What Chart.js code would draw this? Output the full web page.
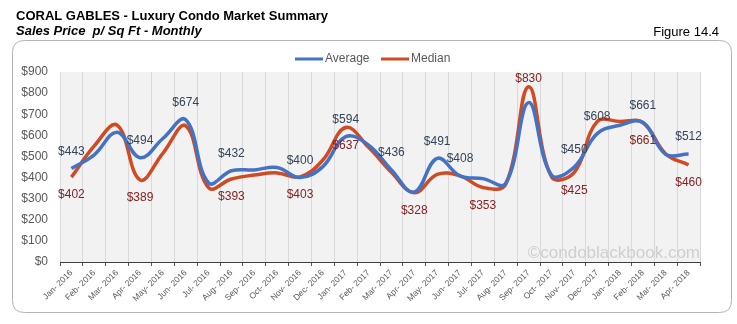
<!DOCTYPE html>
<html>
<head>
<meta charset="utf-8">
<script src="https://cdn.jsdelivr.net/npm/chart.js@4.4.1/dist/chart.umd.min.js"></script>
<style>
html,body{margin:0;padding:0;background:#ffffff;}
#wrap{position:relative;width:737px;height:324px;overflow:hidden;}
canvas{display:block;}
</style>
</head>
<body>
<div id="wrap"><canvas id="c" width="737" height="324"></canvas></div>
<script>
// ---- data ----
const months = ['Jan- 2016','Feb- 2016','Mar- 2016','Apr- 2016','May- 2016','Jun- 2016','Jul- 2016','Aug- 2016','Sep- 2016','Oct- 2016','Nov- 2016','Dec- 2016',
  'Jan- 2017','Feb- 2017','Mar- 2017','Apr- 2017','May- 2017','Jun- 2017','Jul- 2017','Aug- 2017','Sep- 2017','Oct- 2017','Nov- 2017','Dec- 2017',
  'Jan- 2018','Feb- 2018','Mar- 2018','Apr- 2018'];
const averageValues = [443, 508, 615, 494, 585, 674, 375, 432, 436, 448, 400, 452,
  594, 554, 436, 331, 491, 408, 395, 372, 755, 412, 450, 608,
  648, 661, 510, 512];
const medianValues = [402, 550, 648, 389, 515, 645, 352, 393, 412, 422, 403, 483,
  637, 543, 425, 328, 415, 408, 353, 368, 830, 404, 425, 665,
  665, 661, 512, 460];
const yTickValues = [0, 100, 200, 300, 400, 500, 600, 700, 800, 900];
const averageLabelIdx = [0, 3, 5, 7, 10, 12, 14, 16, 17, 22, 23, 25, 27];
const medianLabelIdx = [0, 3, 7, 10, 12, 15, 18, 20, 22, 25, 27];
const medianLabelAboveIdx = [20];
const seriesNames = ['Average', 'Median'];
const titleText = 'CORAL GABLES - Luxury Condo Market Summary';
const subtitleText = 'Sales Price  p/ Sq Ft - Monthly';
const figureText = 'Figure 14.4';
const watermarkText = '\u00A9condoblackbook.com';

// ---- styles ----
const AVG_COLOR = '#4472C4';
const MED_COLOR = '#D04A22';
const AVG_LABEL_COLOR = '#354458';
const MED_LABEL_COLOR = '#852222';
const AXIS_TEXT = '#595959';
const FONT = '"Liberation Sans", Arial, sans-serif';

const decorPlugin = {
  id: 'decor',
  beforeDraw(chart) {
    const ctx = chart.ctx;
    const ca = chart.chartArea;
    ctx.save();
    ctx.fillStyle = '#ffffff';
    ctx.fillRect(0, 0, chart.width, chart.height);
    // rounded frame
    const x0 = 12.5, y0 = 40.5, x1 = 731.5, y1 = 312.5, r = 12;
    ctx.beginPath();
    ctx.moveTo(x0 + r, y0);
    ctx.lineTo(x1 - r, y0);
    ctx.quadraticCurveTo(x1, y0, x1, y0 + r);
    ctx.lineTo(x1, y1 - r);
    ctx.quadraticCurveTo(x1, y1, x1 - r, y1);
    ctx.lineTo(x0 + r, y1);
    ctx.quadraticCurveTo(x0, y1, x0, y1 - r);
    ctx.lineTo(x0, y0 + r);
    ctx.quadraticCurveTo(x0, y0, x0 + r, y0);
    ctx.closePath();
    ctx.strokeStyle = '#b4b4b4';
    ctx.lineWidth = 1;
    ctx.stroke();
    // plot background
    ctx.fillStyle = '#f2f2f2';
    ctx.fillRect(ca.left, ca.top, ca.right - ca.left, ca.bottom - ca.top);
    // titles
    ctx.fillStyle = '#000000';
    ctx.textBaseline = 'alphabetic';
    ctx.textAlign = 'left';
    ctx.font = 'bold 13px ' + FONT;
    ctx.fillText(titleText, 16, 19.5);
    ctx.font = 'italic bold 13px ' + FONT;
    ctx.fillText(subtitleText, 16, 35);
    ctx.font = '13px ' + FONT;
    ctx.textAlign = 'right';
    ctx.fillText(figureText, 719, 35.5);
    // legend
    ctx.font = '12px ' + FONT;
    ctx.textAlign = 'left';
    ctx.textBaseline = 'middle';
    const ly = 59;
    ctx.lineWidth = 3;
    ctx.strokeStyle = AVG_COLOR;
    ctx.beginPath(); ctx.moveTo(295, ly); ctx.lineTo(323, ly); ctx.stroke();
    ctx.fillStyle = AXIS_TEXT;
    ctx.fillText(seriesNames[0], 325, ly);
    ctx.strokeStyle = MED_COLOR;
    ctx.beginPath(); ctx.moveTo(381, ly); ctx.lineTo(409, ly); ctx.stroke();
    ctx.fillText(seriesNames[1], 411, ly);
    ctx.restore();
  },
  beforeDatasetsDraw(chart) {
    const ctx = chart.ctx;
    const ca = chart.chartArea;
    ctx.save();
    ctx.font = '17px ' + FONT;
    ctx.fillStyle = '#cfcfcf';
    ctx.textAlign = 'right';
    ctx.textBaseline = 'middle';
    ctx.fillText(watermarkText, ca.right, ca.bottom - 9);
    ctx.restore();
  },
  afterDatasetsDraw(chart) {
    const ctx = chart.ctx;
    const a = chart.getDatasetMeta(0).data;
    const m = chart.getDatasetMeta(1).data;
    ctx.save();
    ctx.font = '12px ' + FONT;
    ctx.textAlign = 'center';
    ctx.textBaseline = 'middle';
    ctx.fillStyle = AVG_LABEL_COLOR;
    averageLabelIdx.forEach(i => {
      ctx.fillText('$' + averageValues[i], a[i].x, a[i].y - 17);
    });
    ctx.fillStyle = MED_LABEL_COLOR;
    medianLabelIdx.forEach(i => {
      const above = medianLabelAboveIdx.includes(i);
      ctx.fillText('$' + medianValues[i], m[i].x, m[i].y + (above ? -8 : 18));
    });
    ctx.restore();
  }
};

Chart.defaults.font.family = FONT;

new Chart(document.getElementById('c'), {
  type: 'line',
  data: {
    labels: months,
    datasets: [
      { label: seriesNames[0], data: averageValues, borderColor: AVG_COLOR, backgroundColor: AVG_COLOR,
        borderWidth: 3.5, pointRadius: 0, tension: 0.4, fill: false },
      { label: seriesNames[1], data: medianValues, borderColor: MED_COLOR, backgroundColor: MED_COLOR,
        borderWidth: 3.5, pointRadius: 0, tension: 0.4, fill: false }
    ]
  },
  options: {
    responsive: false,
    animation: false,
    devicePixelRatio: 1,
    layout: { padding: { left: 12, right: 37, top: 72, bottom: 0 } },
    plugins: { legend: { display: false }, tooltip: { enabled: false }, title: { display: false } },
    scales: {
      x: {
        type: 'category',
        offset: true,
        grid: { display: true, offset: true, color: '#d9d9d9', lineWidth: 1, drawTicks: true, tickLength: 4, tickColor: '#595959' },
        border: { display: true, color: '#404040', width: 1 },
        ticks: { color: AXIS_TEXT, font: { size: 8.5, family: FONT }, minRotation: 45, maxRotation: 45, autoSkip: false, padding: 2 },
        afterFit(scale) { scale.height = 62; }
      },
      y: {
        min: 0, max: 900,
        grid: { display: false, drawTicks: false },
        border: { display: false },
        afterBuildTicks(scale) { scale.ticks = yTickValues.map(v => ({ value: v })); },
        ticks: { color: AXIS_TEXT, font: { size: 12, family: FONT }, padding: 12, callback: v => '$' + v },
        afterFit(scale) { scale.width = 48; }
      }
    }
  },
  plugins: [decorPlugin]
});
</script>
</body>
</html>
